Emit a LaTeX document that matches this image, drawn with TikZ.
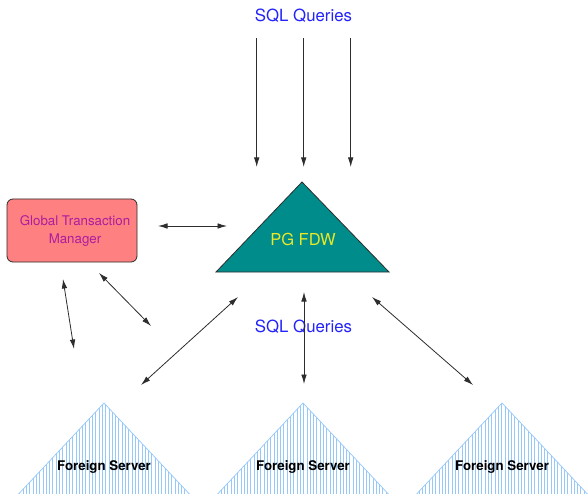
\documentclass[tikz,border=0pt]{standalone}
\usepackage{fontspec}
\setmainfont{TeX Gyre Heros}
\usetikzlibrary{arrows.meta,patterns.meta}
\definecolor{qblue}{RGB}{35,35,250}
\definecolor{gtmtext}{RGB}{170,30,160}
\definecolor{gtmfill}{RGB}{255,128,128}
\definecolor{fdwfill}{RGB}{0,140,138}
\definecolor{fdwtext}{RGB}{232,232,40}
\definecolor{hatch}{RGB}{150,200,250}
\definecolor{edge}{RGB}{45,45,45}
\tikzset{
  tip/.tip={Latex[length=9.5pt,width=5.5pt]},
  conn/.style={draw=edge, line width=0.8pt, -tip},
  dconn/.style={draw=edge, line width=0.8pt, tip-tip},
  qlabel/.style={text=qblue, font=\fontsize{16.8}{19}\selectfont, inner sep=0pt},
  srvtri/.style={draw=hatch, line width=0.7pt, pattern={Lines[angle=90,distance=3.3pt,line width=0.7pt]}, pattern color=hatch},
  srvlabel/.style={font=\fontsize{13.3}{16}\selectfont\bfseries, text=black, inner sep=0pt},
}
\begin{document}
\begin{tikzpicture}[x=1pt,y=-1pt]
\clip (0,0) rectangle (588,494);
\fill[white] (0,0) rectangle (588,494);

% Foreign server triangles
\foreach \cx in {104,303,502}{
  \path[srvtri] (\cx,403) -- (\cx-91,500) -- (\cx+91,500) -- cycle;
}
\node[srvlabel] (s1) at (104,467) {Foreign Server};
\node[srvlabel] (s2) at (303,467) {Foreign Server};
\node[srvlabel] (s3) at (502,467) {Foreign Server};

% PG FDW triangle
\path[draw=edge, line width=0.8pt, fill=fdwfill] (302,182) -- (216,272) -- (389,272) -- cycle;
\node[text=fdwtext, font=\fontsize{16.5}{19}\selectfont, inner sep=0pt] (fdw) at (303,239) {PG FDW};

% GTM box
\node[draw=edge, line width=0.8pt, fill=gtmfill, rounded corners=6pt, minimum width=130pt, minimum height=63pt, inner sep=0pt] (gtmbox) at (72,230.5) {};
\node[text=gtmtext, font=\fontsize{13.3}{18}\selectfont, align=center, inner sep=0pt] (gtm) at (75,231) {Global Transaction\\Manager};

% Labels
\node[qlabel] (q1) at (303.5,16) {SQL Queries};
\node[qlabel] (q2) at (303.5,327) {SQL Queries};

% Arrow endpoints
\coordinate (t1a) at (256.7,38); \coordinate (t1b) at (256.7,167);
\coordinate (t2a) at (303.7,38); \coordinate (t2b) at (303.7,167);
\coordinate (t3a) at (350.7,38); \coordinate (t3b) at (350.7,167);
\coordinate (ga) at (158,226); \coordinate (gb) at (227,226);
\coordinate (gl1) at (63,279); \coordinate (gl2) at (74,349);
\coordinate (gm1) at (99,273); \coordinate (gm2) at (151,326);
\coordinate (fl1) at (238,297); \coordinate (fl2) at (141,385);
\coordinate (fm1) at (304,292); \coordinate (fm2) at (304,384);
\coordinate (fr1) at (372,297); \coordinate (fr2) at (473,385);

\draw[conn] (t1a) -- (t1b);
\draw[conn] (t2a) -- (t2b);
\draw[conn] (t3a) -- (t3b);
\draw[dconn] (ga) -- (gb);
\draw[dconn] (gl1) -- (gl2);
\draw[dconn] (gm1) -- (gm2);
\draw[dconn] (fl1) -- (fl2);
\draw[dconn] (fm1) -- (fm2);
\draw[dconn] (fr1) -- (fr2);
\end{tikzpicture}
\end{document}
